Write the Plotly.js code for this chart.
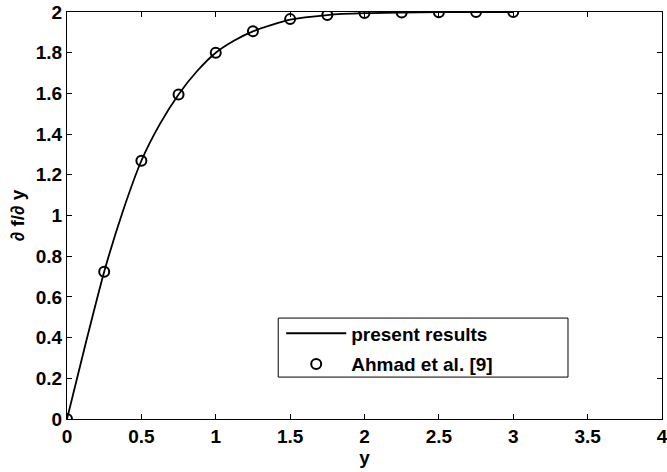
<!DOCTYPE html>
<html>
<head>
<meta charset="utf-8">
<script src="https://cdn.plot.ly/plotly-3.0.1.min.js"></script>
<style>html,body{margin:0;padding:0;background:#fff;}#chart{width:667px;height:472px;}</style>
</head>
<body>
<div id="chart"></div>
<script>
// present results (solid line)
const lineX = [0, 0.125, 0.25, 0.375, 0.5, 0.625, 0.75, 0.875, 1, 1.125, 1.25, 1.5, 1.75, 2, 2.25, 2.5, 2.75, 3];
const lineY = [0, 0.37, 0.724, 1.02, 1.269, 1.45, 1.595, 1.71, 1.80, 1.86, 1.905, 1.962, 1.985, 1.994, 1.997, 1.999, 2.0, 2.0];
// Ahmad et al. [9] (circles)
const ptsX = [0, 0.25, 0.5, 0.75, 1, 1.25, 1.5, 1.75, 2, 2.25, 2.5, 2.75, 3];
const ptsY = [0, 0.724, 1.269, 1.595, 1.80, 1.905, 1.965, 1.985, 1.995, 1.997, 1.999, 2.0, 2.0];
const xTicks = [0, 0.5, 1, 1.5, 2, 2.5, 3, 3.5, 4];
const xTickText = ['0', '0.5', '1', '1.5', '2', '2.5', '3', '3.5', '4'];
const yTicks = [0, 0.2, 0.4, 0.6, 0.8, 1, 1.2, 1.4, 1.6, 1.8, 2];
const yTickText = ['0', '0.2', '0.4', '0.6', '0.8', '1', '1.2', '1.4', '1.6', '1.8', '2'];

const font = {family: 'Liberation Sans, Arial, sans-serif', size: 19, color: '#000', weight: 'bold'};

const traces = [
  {x: lineX, y: lineY, mode: 'lines', name: '<b>present results</b>', legendgroup: 'a',
   line: {color: '#000', width: 1.8, shape: 'spline', smoothing: 0.6}},
  {x: ptsX, y: ptsY, mode: 'markers', name: '<b>Ahmad et al. [9]</b>', legendgroup: 'b',
   marker: {symbol: 'circle-open', size: 10, color: '#000', line: {width: 2, color: '#000'}}}
];

const axisCommon = {
  showgrid: false, zeroline: false, showline: true, linecolor: '#000', linewidth: 1,
  mirror: 'ticks', ticks: 'inside', ticklen: 5, tickcolor: '#000', tickwidth: 1,
  tickfont: font, ticklabeloverflow: 'allow'
};

const layout = {
  width: 667, height: 472,
  margin: {l: 67, r: 5, t: 12, b: 53},
  paper_bgcolor: '#fff', plot_bgcolor: '#fff',
  font: font,
  showlegend: true,
  legend: {x: 0.36, y: 0.257, xanchor: 'left', yanchor: 'top',
    borderwidth: 0, bgcolor: 'rgba(0,0,0,0)',
    font: font, tracegroupgap: 3, itemwidth: 60},
  shapes: [{type: 'rect', xref: 'paper', yref: 'paper', x0: 0.355, x1: 0.842, y0: 0.103, y1: 0.248,
    line: {color: '#000', width: 1}, fillcolor: 'rgba(0,0,0,0)', layer: 'above'}],
  xaxis: Object.assign({}, axisCommon, {range: [0, 4], tickvals: xTicks, ticktext: xTickText,
    title: {text: '<b>y</b>', font: font, standoff: 2}}),
  yaxis: Object.assign({}, axisCommon, {range: [0, 2], tickvals: yTicks, ticktext: yTickText,
    title: {text: '<b>∂ f/∂ y</b>', font: font, standoff: 6}})
};

Plotly.newPlot('chart', traces, layout, {displayModeBar: false, staticPlot: true});
</script>
</body>
</html>
